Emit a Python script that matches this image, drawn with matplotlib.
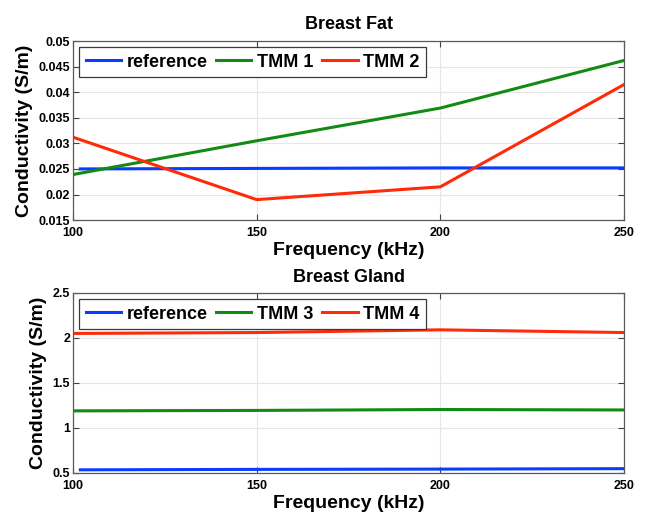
import numpy as np
import matplotlib
matplotlib.use('Agg')
import matplotlib.pyplot as plt
from matplotlib.ticker import FuncFormatter

# Daten
freq = [100, 150, 200, 250]
freq_ref = [102, 150, 200, 250]

fat_ref = [0.0250, 0.0251, 0.0252, 0.0252]
fat_tmm1 = [0.0239, 0.0305, 0.0369, 0.0462]
fat_tmm2 = [0.0312, 0.0190, 0.0215, 0.0415]

gland_ref = [0.535, 0.540, 0.543, 0.548]
gland_tmm3 = [1.19, 1.195, 1.205, 1.20]
gland_tmm4 = [2.05, 2.06, 2.09, 2.06]

fat_yticks = [0.015, 0.02, 0.025, 0.03, 0.035, 0.04, 0.045, 0.05]
gland_yticks = [0.5, 1, 1.5, 2, 2.5]
xticks = [100, 150, 200, 250]

c_blue = '#0a3cff'
c_green = '#138a13'
c_red = '#ff2a0a'

plt.rcParams['font.family'] = ['Liberation Sans', 'DejaVu Sans']
plt.rcParams['font.weight'] = 'bold'

fig = plt.figure(figsize=(6.46, 5.13), dpi=100)
ax1 = fig.add_axes([0.113, 0.571, 0.853, 0.349])
ax2 = fig.add_axes([0.113, 0.078, 0.853, 0.351])


def style(ax, yticks, ylim):
    ax.set_xlim(100, 250)
    ax.set_ylim(*ylim)
    ax.set_xticks(xticks)
    ax.set_yticks(yticks)
    ax.yaxis.set_major_formatter(FuncFormatter(lambda v, p: '%g' % v))
    ax.grid(True, color='#e6e6e6', linewidth=0.8)
    ax.set_axisbelow(True)
    ax.tick_params(direction='in', length=4, width=0.8, colors='#404040',
                   labelcolor='black', labelsize=9, top=True, right=True)
    ax.tick_params(axis='y', pad=2)
    ax.tick_params(axis='x', pad=5)
    for lab in ax.get_xticklabels() + ax.get_yticklabels():
        lab.set_fontweight('bold')
    for s in ax.spines.values():
        s.set_color('#5a5a5a')
        s.set_linewidth(0.9)
    ax.set_xlabel('Frequency (kHz)', fontsize=14, fontweight='bold', labelpad=2)
    ax.set_ylabel('Conductivity (S/m)', fontsize=14, fontweight='bold', labelpad=4)


# Oberer Plot: Brustfett
ax1.plot(freq_ref, fat_ref, color=c_blue, lw=2.2, label='reference')
ax1.plot(freq, fat_tmm1, color=c_green, lw=2.2, label='TMM 1')
ax1.plot(freq, fat_tmm2, color=c_red, lw=2.2, label='TMM 2')
style(ax1, fat_yticks, (0.015, 0.05))
ax1.set_title('Breast Fat', fontsize=13, fontweight='bold', pad=9)

# Unterer Plot: Brustdruese
ax2.plot(freq_ref, gland_ref, color=c_blue, lw=2.2, label='reference')
ax2.plot(freq, gland_tmm3, color=c_green, lw=2.2, label='TMM 3')
ax2.plot(freq, gland_tmm4, color=c_red, lw=2.2, label='TMM 4')
style(ax2, gland_yticks, (0.5, 2.5))
ax2.set_title('Breast Gland', fontsize=13, fontweight='bold', pad=8)

for ax in (ax1, ax2):
    leg = ax.legend(loc='upper left', ncol=3, fancybox=False, framealpha=1,
                    edgecolor='#3a3a3a', handlelength=1.95,
                    handletextpad=0.3, columnspacing=0.5, borderpad=0.35,
                    borderaxespad=0.35, prop={'weight': 'bold', 'size': 13})
    leg.get_frame().set_linewidth(0.9)

fig.savefig('out.png', dpi=100)
